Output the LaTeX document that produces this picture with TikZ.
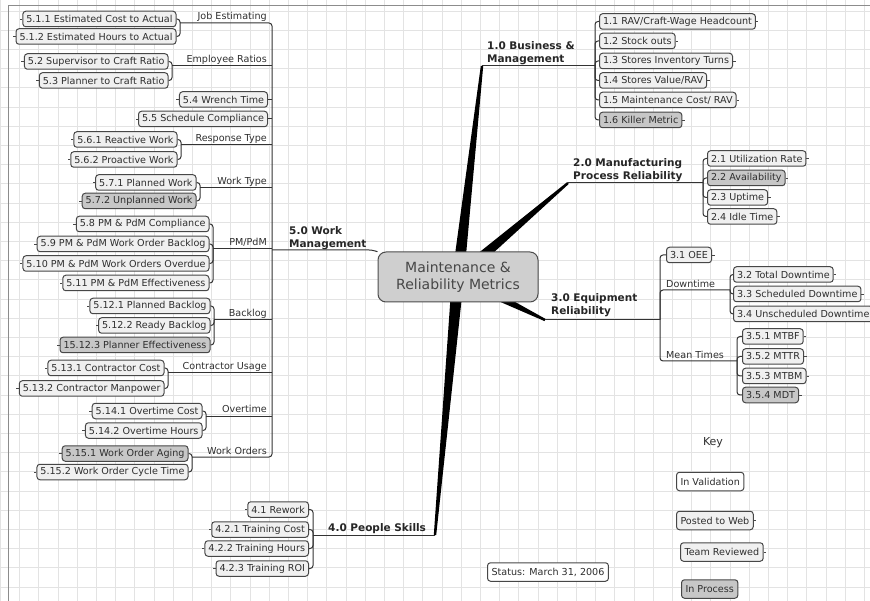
\documentclass[tikz,border=0pt]{standalone}
\usepackage{fontspec}
\setmainfont{DejaVu Sans}
\usetikzlibrary{calc}

\tikzset{
  gridline/.style={draw=black!11, line width=0.5pt},
  sheetedge/.style={draw=black!45, line width=0.8pt},
  leaf/.style={draw=black!72, line width=1pt, rounded corners=3pt, fill=black!6, text=black!82,
    font=\fontsize{9.6}{11}\selectfont, inner xsep=3.5pt, inner ysep=1pt, minimum height=15.5pt},
  lleaf/.style={leaf, anchor=east, append after command={(\tikzlastnode.west) edge[stub] ++(-2.5pt,0)}},
  rleaf/.style={leaf, anchor=west, append after command={(\tikzlastnode.east) edge[stub] ++(2.5pt,0)}},
  proc/.style={fill=black!22},
  keybox/.style={minimum height=18.5pt, inner xsep=4pt},
  stub/.style={draw=black!72, line width=0.8pt},
  cat/.style={font=\fontsize{9.6}{11}\selectfont, text=black!82, inner sep=1pt},
  topic/.style={font=\bfseries\fontsize{10.5}{13}\selectfont, text=black!85, align=left, inner sep=1pt, anchor=south west},
  hubbox/.style={draw=black!70, line width=1pt, fill=black!19, rounded corners=8pt, minimum width=160pt,
    minimum height=50pt, align=center, text=black!72, font=\fontsize{14}{17}\selectfont},
  conn/.style={draw=black!80, line width=1pt, rounded corners=3pt},
  wedge/.style={fill=black},
}

\begin{document}
\begin{tikzpicture}[x=1pt, y=-1pt]
\useasboundingbox (0,0) rectangle (870,601);
% grid paper
\foreach \gx in {0.3,19.5,...,870} \draw[gridline] (\gx,0) -- (\gx,601);
\foreach \gy in {10.8,30,...,601} \draw[gridline] (0,\gy) -- (870,\gy);
\draw[sheetedge] (8.5,601) -- (8.5,5) -- (870,5);

% hub and thick branches
\coordinate (hub) at (458,277);
\coordinate (ba0) at (482,66);
\coordinate (ma0) at (568,183);
\coordinate (er0) at (545,320);
\coordinate (pa0) at (435,535);
\fill[wedge] ($(hub)+(5.96,0.68)$) -- ($(ba0)+(1.19,0.14)$) -- ($(ba0)-(1.19,0.14)$) -- ($(hub)-(5.96,0.68)$) -- cycle;
\fill[wedge] ($(hub)+(3.90,4.56)$) -- ($(ma0)+(0.78,0.91)$) -- ($(ma0)-(0.78,0.91)$) -- ($(hub)-(3.90,4.56)$) -- cycle;
\fill[wedge] ($(hub)+(-2.66,5.38)$) -- ($(er0)+(-0.53,1.08)$) -- ($(er0)-(-0.53,1.08)$) -- ($(hub)-(-2.66,5.38)$) -- cycle;
\fill[wedge] ($(hub)+(-5.98,-0.53)$) -- ($(pa0)+(-1.2,-0.11)$) -- ($(pa0)-(-1.2,-0.11)$) -- ($(hub)-(-5.98,-0.53)$) -- cycle;
\node[hubbox] (mrm) at (hub) {Maintenance \&\\Reliability Metrics};

% 1.0
\node[topic] (bat) at (486,65.5) {1.0 Business \&\\Management};
\coordinate (ba) at (595,66);
\draw[conn] (ba0) -- (ba);
\node[rleaf] (ba1) at (599,21.5) {1.1 RAV/Craft-Wage Headcount};
\node[rleaf] (ba2) at (599,41) {1.2 Stock outs};
\node[rleaf] (ba3) at (599,61) {1.3 Stores Inventory Turns};
\node[rleaf] (ba4) at (599,80.5) {1.4 Stores Value/RAV};
\node[rleaf] (ba5) at (599,100) {1.5 Maintenance Cost/ RAV};
\node[rleaf, proc] (ba6) at (599,120) {1.6 Killer Metric};

% 2.0
\node[topic] (mat) at (572,182.5) {2.0 Manufacturing\\Process Reliability};
\coordinate (ma) at (703,183);
\draw[conn] (ma0) -- (ma);
\node[rleaf] (ma1) at (707,158.5) {2.1 Utilization Rate};
\node[rleaf, proc] (ma2) at (707,178) {2.2 Availability};
\node[rleaf] (ma3) at (707,197.5) {2.3 Uptime};
\node[rleaf] (ma4) at (707,216.5) {2.4 Idle Time};

% 3.0
\node[topic] (ert) at (550,318) {3.0 Equipment\\Reliability};
\coordinate (er) at (660,320);
\draw[conn] (er0) -- (er);
\node[rleaf] (oee) at (666,255) {3.1 OEE};
\draw[conn] (oee.west) -| (er);
\node[cat, anchor=base west] (dat) at (665,287.5) {Downtime};
\coordinate (da) at (730,290);
\draw[conn] (da) -| (er);
\node[rleaf] (da1) at (733,274.5) {3.2 Total Downtime};
\node[rleaf] (da2) at (733,294) {3.3 Scheduled Downtime};
\node[rleaf] (da3) at (733,314) {3.4 Unscheduled Downtime};
\node[cat, anchor=base west] (tat) at (665,358.5) {Mean Times};
\coordinate (ta) at (737,361);
\draw[conn] (ta) -| (er);
\node[rleaf] (ta1) at (742,336.5) {3.5.1 MTBF};
\node[rleaf] (ta2) at (742,356.5) {3.5.2 MTTR};
\node[rleaf] (ta3) at (742,376) {3.5.3 MTBM};
\node[rleaf, proc] (ta4) at (742,395) {3.5.4 MDT};

% 4.0
\node[topic, anchor=base west] (pat) at (327,531.5) {4.0 People Skills};
\coordinate (pa) at (313,535);
\draw[conn] (pa0) -- (pa);
\node[lleaf] (pa1) at (309,509.5) {4.1 Rework};
\node[lleaf] (pa2) at (309,529.5) {4.2.1 Training Cost};
\node[lleaf] (pa3) at (309,548.5) {4.2.2 Training Hours};
\node[lleaf] (pa4) at (309,568.5) {4.2.3 Training ROI};

% 5.0
\coordinate (wm) at (272,250);
\coordinate (wm0) at (372,250);
\node[topic] (wmt) at (288,250.5) {5.0 Work\\Management};
\draw[conn] (wm) -- (wm0) -- (mrm);
\coordinate (wa) at (180,23);
\coordinate (wb) at (172,66);
\coordinate (wc) at (181,145);
\coordinate (wd) at (200,188);
\coordinate (we) at (213,249);
\coordinate (wf) at (214,320);
\coordinate (wg) at (168,373);
\coordinate (wh) at (206,416);
\coordinate (wi) at (192,457);
\draw[conn] (wa) -| (wm) |- (wi);
\foreach \g in {wb,wc,wd,we,wf,wg,wh} \draw[conn] (\g) -- (\g -| wm);
\node[cat, anchor=base east] (wat) at (268,20) {Job Estimating};
\node[cat, anchor=base east] (wbt) at (268,63) {Employee Ratios};
\node[cat, anchor=base east] (wct) at (268,142) {Response Type};
\node[cat, anchor=base east] (wdt) at (268,185) {Work Type};
\node[cat, anchor=base east] (wet) at (268,246) {PM/PdM};
\node[cat, anchor=base east] (wft) at (268,317) {Backlog};
\node[cat, anchor=base east] (wgt) at (268,370) {Contractor Usage};
\node[cat, anchor=base east] (wht) at (268,413) {Overtime};
\node[cat, anchor=base east] (wit) at (268,454) {Work Orders};

\node[lleaf] (wa1) at (176.5,19) {5.1.1 Estimated Cost to Actual};
\node[lleaf] (wa2) at (176.5,36.5) {5.1.2 Estimated Hours to Actual};
\node[lleaf] (wb1) at (168.5,61.5) {5.2 Supervisor to Craft Ratio};
\node[lleaf] (wb2) at (168.5,80.5) {5.3 Planner to Craft Ratio};
\node[lleaf] (w4) at (268,99.5) {5.4 Wrench Time};
\node[lleaf] (w5) at (268,119) {5.5 Schedule Compliance};
\draw[conn] (w4.east) -- (w4.east -| wm);
\draw[conn] (w5.east) -- (w5.east -| wm);
\node[lleaf] (wc1) at (177.5,139.5) {5.6.1 Reactive Work};
\node[lleaf] (wc2) at (177.5,159.5) {5.6.2 Proactive Work};
\node[lleaf] (wd1) at (196.5,182.5) {5.7.1 Planned Work};
\node[lleaf, proc] (wd2) at (196.5,201) {5.7.2 Unplanned Work};
\node[lleaf] (we1) at (209.5,224) {5.8 PM \& PdM Compliance};
\node[lleaf] (we2) at (209.5,244) {5.9 PM \& PdM Work Order Backlog};
\node[lleaf] (we3) at (209.5,263.5) {5.10 PM \& PdM Work Orders Overdue};
\node[lleaf] (we4) at (209.5,283) {5.11 PM \& PdM Effectiveness};
\node[lleaf] (wf1) at (210.5,306) {5.12.1 Planned Backlog};
\node[lleaf] (wf2) at (210.5,325.5) {5.12.2 Ready Backlog};
\node[lleaf, proc] (wf3) at (210.5,345) {15.12.3 Planner Effectiveness};
\node[lleaf] (wg1) at (164.5,368) {5.13.1 Contractor Cost};
\node[lleaf] (wg2) at (164.5,388.5) {5.13.2 Contractor Manpower};
\node[lleaf] (wh1) at (202.5,411) {5.14.1 Overtime Cost};
\node[lleaf] (wh2) at (202.5,430.5) {5.14.2 Overtime Hours};
\node[lleaf, proc] (wi1) at (188.5,453.5) {5.15.1 Work Order Aging};
\node[lleaf] (wi2) at (188.5,472) {5.15.2 Work Order Cycle Time};

% brackets
\foreach \g/\k in {wa/2,wb/2,wc/2,wd/2,we/4,wf/3,wg/2,wh/2,wi/2,pa/4}
  \foreach \n in {1,...,\k} \draw[conn] (\g\n.east) -| (\g);
\foreach \g/\k in {ba/6,ma/4,da/3,ta/4}
  \foreach \n in {1,...,\k} \draw[conn] (\g\n.west) -| (\g);

% key and status
\node[cat, font=\fontsize{11}{13}\selectfont] (key) at (713,443) {Key};
\node[leaf, keybox, fill=white, anchor=west] (kva) at (676,481.5) {In Validation};
\node[rleaf, keybox] (kwe) at (676,520.5) {Posted to Web};
\node[rleaf, keybox] (ktr) at (680,552) {Team Reviewed};
\node[leaf, keybox, proc, anchor=west] (kpr) at (681,589) {In Process};
\node[leaf, keybox, fill=white, anchor=west] (sta) at (487,572) {Status: March 31, 2006};
\end{tikzpicture}
\end{document}
